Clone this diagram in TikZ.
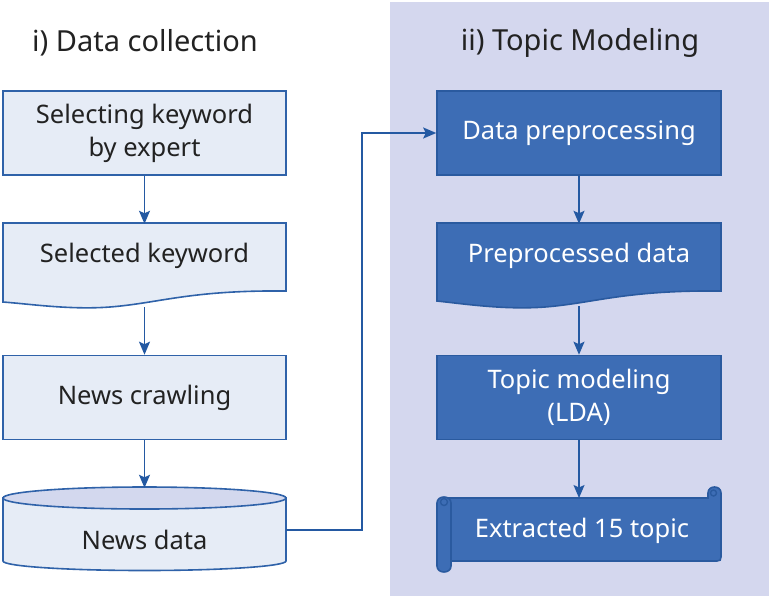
\documentclass[tikz,border=0pt]{standalone}
\usepackage{fontspec}
\setmainfont{Noto Sans}
\usetikzlibrary{arrows.meta}
\definecolor{panel}{HTML}{D4D7EE}
\definecolor{lfill}{HTML}{E6ECF6}
\definecolor{lline}{HTML}{2F62A9}
\definecolor{rfill}{HTML}{3D6DB5}
\definecolor{rline}{HTML}{2A5A9F}
\definecolor{arrc}{HTML}{2459A2}
\definecolor{cyltop}{HTML}{D3D8EE}
\definecolor{txt}{HTML}{222222}
\tikzset{
  boxtext/.style={inner sep=0pt, align=center, font=\fontsize{25.5}{33}\selectfont},
  lbox/.style={boxtext, draw=lline, line width=1.6pt, fill=lfill, text=txt, minimum width=283, minimum height=84},
  rbox/.style={boxtext, draw=rline, line width=1.6pt, fill=rfill, text=white, minimum width=284, minimum height=84},
  lshape/.style={draw=lline, line width=1.6pt, fill=lfill},
  rshape/.style={draw=rline, line width=1.6pt, fill=rfill},
  arr/.style={draw=arrc, line width=1.5pt, -{Stealth[length=13pt,width=11pt,inset=2.5pt]}},
  title/.style={font=\fontsize{29}{34}\selectfont, text=txt, inner sep=0pt}
}
\begin{document}
\begin{tikzpicture}[x=1pt,y=-1pt]
\useasboundingbox (0,0) rectangle (771,598);
\fill[panel] (390,2) rectangle (769,596);

\node[title] (t1) at (145,43) {i) Data collection};
\node[title] (t2) at (580,43) {ii) Topic Modeling};

% left column
\node[lbox] (b1) at (144.5,133) {Selecting keyword\\by expert};

\path[lshape] (3,223) -- (286,223) -- (286,291)
  .. controls (190,290) and (160,303) .. (110,307)
  .. controls (70,310) and (30,304) .. (3,302) -- cycle;
\node[boxtext, text=txt, minimum width=283, minimum height=64] (b2) at (144.5,256) {Selected keyword};
\coordinate (b2b) at (144.5,307);

\node[lbox] (b3) at (144.5,397.5) {News crawling};

\path[lshape] (3,498) -- (3,561) arc[start angle=180, end angle=360, x radius=141.5, y radius=-9.5] -- (286,498) -- cycle;
\path[draw=lline, line width=1.6pt, fill=cyltop] (144.5,498) ellipse[x radius=141.5, y radius=11];
\node[boxtext, text=txt, minimum width=283, minimum height=104] (b4) at (144.5,540) {News data};

% right column
\node[rbox] (r1) at (579,133) {Data preprocessing};

\path[rshape] (437,223) -- (721,223) -- (721,291)
  .. controls (625,290) and (595,303) .. (545,307)
  .. controls (505,310) and (465,304) .. (437,301) -- cycle;
\node[boxtext, text=white, minimum width=284, minimum height=64] (r2) at (579,256) {Preprocessed data};
\coordinate (r2b) at (579,306);

\node[rbox] (r3) at (579,397.5) {Topic modeling\\(LDA)};

% scroll
\path[rshape] (447,498) -- (708,498) -- (708,493)
  .. controls (708,485) and (721,485) .. (721,493)
  -- (721,557) .. controls (721,560) and (720,561) .. (717,561)
  -- (447,561) -- cycle;
\draw[rline, line width=1.4pt] (708,498) -- (708,493);
\draw[rline, line width=1.4pt] (713.5,493) circle[radius=3];
\path[rshape] (437,503) .. controls (437,495) and (451,495) .. (451,503)
  -- (451,566) .. controls (451,574) and (437,574) .. (437,566) -- cycle;
\draw[rline, line width=1.4pt] (444,502) circle[radius=3.5];
\node[boxtext, text=white, minimum width=274, minimum height=63] (r4) at (582,530.5) {Extracted 15 topic};

% connectors
\draw[arr] (b1.south) -- (b2.north);
\draw[arr] (b2b) -- (b3.north);
\draw[arr] (b3.south) -- (b4.north);
\draw[arr] ([yshift=10pt]b4.east) -- (362,530) -- (362,133) -- (r1.west);
\draw[arr] (r1.south) -- (r2.north);
\draw[arr] (r2b) -- (r3.north);
\draw[arr] (r3.south) -- (579,498);
\end{tikzpicture}
\end{document}
